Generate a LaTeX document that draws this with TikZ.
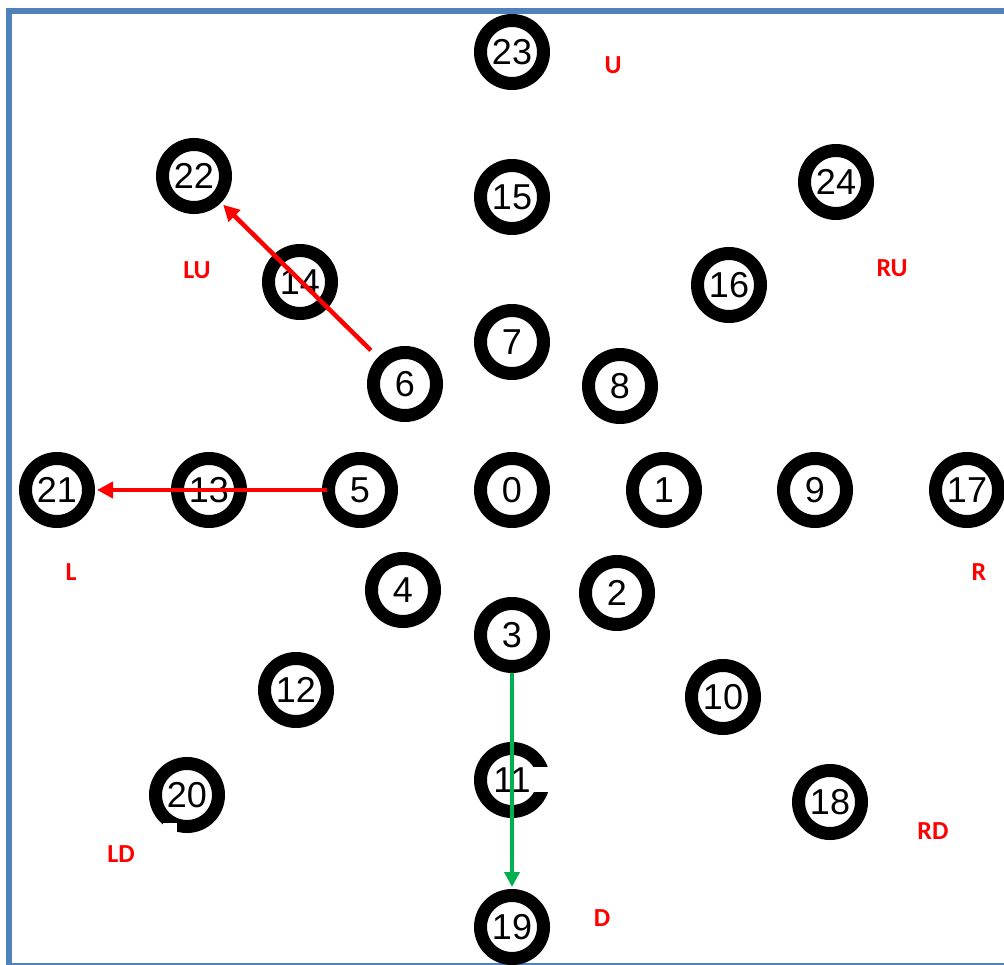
\documentclass[tikz,border=0pt]{standalone}
\usepackage{fontspec}
\newfontfamily\numfont{Liberation Sans}
\newfontfamily\lblfont{Carlito}
\usetikzlibrary{arrows.meta}
\definecolor{frameBlue}{HTML}{4F81BD}
\definecolor{dirRed}{HTML}{FF0000}
\definecolor{dirGreen}{HTML}{00B050}
\begin{document}
\begin{tikzpicture}[
        x=1pt, y=-1pt,
        ringNode/.style={
            circle,
            draw,
            line width=13pt,
            minimum size=63pt,
            inner sep=0pt,
            font=\numfont\fontsize{36}{36}\selectfont
        },
        dirLabel/.style={
            text=dirRed,
            inner sep=0pt,
            font=\lblfont\bfseries\fontsize{26}{26}\selectfont
        },
        redArrow/.style={
            draw=dirRed,
            line width=4.5pt,
            -{Triangle[length=16pt,width=16pt]}
        },
        greenArrow/.style={
            draw=dirGreen,
            line width=4.5pt,
            -{Triangle[length=15pt,width=15pt]}
        },
        patch/.style={
            fill=white
        }
    ]
        \useasboundingbox (0,0) rectangle (1004,965);

        % frame
        \fill[frameBlue] (6,8) rectangle (1004,14);
        \fill[frameBlue] (6,8) rectangle (12,965);
        \fill[frameBlue] (6,963.3) rectangle (1004,964.7);

        % centre column
        \node[ringNode] (n23) at (512,52)  {23};
        \node[ringNode] (n15) at (512,197) {15};
        \node[ringNode] (n7)  at (512,342) {7};
        \node[ringNode] (n0)  at (512,490) {0};
        \node[ringNode] (n3)  at (512,635) {3};
        \node[ringNode] (n11) at (512,780) {11};
        \node[ringNode] (n19) at (512,927) {19};

        % centre row
        \node[ringNode] (n21) at (57,490)  {21};
        \node[ringNode] (n13) at (209,490) {13};
        \node[ringNode] (n5)  at (360,490) {5};
        \node[ringNode] (n1)  at (664,490) {1};
        \node[ringNode] (n9)  at (815,490) {9};
        \node[ringNode] (n17) at (967,490) {17};

        % diagonals
        \node[ringNode] (n22) at (194,176) {22};
        \node[ringNode] (n14) at (300,282) {14};
        \node[ringNode] (n6)  at (405,384) {6};
        \node[ringNode] (n8)  at (620,386) {8};
        \node[ringNode] (n16) at (729,285) {16};
        \node[ringNode] (n24) at (836,182) {24};
        \node[ringNode] (n4)  at (403,590) {4};
        \node[ringNode] (n12) at (296,690) {12};
        \node[ringNode] (n20) at (187,795) {20};
        \node[ringNode] (n2)  at (617,593) {2};
        \node[ringNode] (n10) at (723,697) {10};
        \node[ringNode] (n18) at (830,802) {18};

        % gaps in rings 11 and 20
        \fill[patch] (530,767) rectangle (555,792);
        \fill[patch] (163,823) rectangle (177,835);

        % direction labels
        \node[dirLabel] (lU)  at (613,65)  {U};
        \node[dirLabel] (lLU) at (197,270) {LU};
        \node[dirLabel] (lRU) at (892,268) {RU};
        \node[dirLabel] (lL)  at (71,572)  {L};
        \node[dirLabel] (lR)  at (979,572) {R};
        \node[dirLabel] (lLD) at (121,854) {LD};
        \node[dirLabel] (lRD) at (933,831) {RD};
        \node[dirLabel] (lD)  at (602,918) {D};

        % moves
        \draw[redArrow, shorten <=10pt, shorten >=3pt] (n6) -- (n22);
        \draw[redArrow, shorten <=-5pt, shorten >=2pt] (n5) -- (n21);
        \draw[greenArrow, shorten >=2pt] (n3) -- (n19);

    \end{tikzpicture}
\end{document}
